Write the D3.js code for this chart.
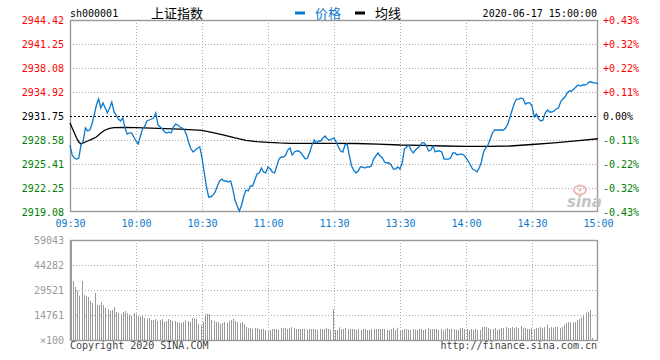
<!DOCTYPE html>
<html><head><meta charset="utf-8">
<script src="https://cdn.jsdelivr.net/npm/d3@7"></script>
<style>
body{margin:0;background:#fff;}
svg{display:block;}
</style></head><body>
<svg id="c" width="660" height="360"></svg>
<script>
const timeLabels = ["09:30","10:00","10:30","11:00","11:30","13:30","14:00","14:30","15:00"];
const timeTickMinutes = [0,30,60,90,120,150,180,210,240];
const priceTicks = [2944.42,2941.25,2938.08,2934.92,2931.75,2928.58,2925.41,2922.25,2919.08];
const pctLabels = ["+0.43%","+0.32%","+0.22%","+0.11%","0.00%","-0.11%","-0.22%","-0.32%","-0.43%"];
const volTicks = [59043,44282,29521,14761,0];
const volTickLabels = ["59043","44282","29521","14761","×100"];
const prevClose = 2931.75;

const price = [
2927.92,2926.60,2926.21,2926.07,2926.21,2927.92,2928.45,2930.17,2929.77,2929.90,
2930.69,2931.88,2933.20,2933.99,2932.81,2933.47,2932.81,2932.15,2932.81,2933.60,
2932.28,2931.88,2931.35,2931.09,2931.49,2930.17,2929.37,2929.51,2929.51,2928.98,
2928.45,2928.05,2929.11,2930.03,2930.43,2931.09,2931.22,2931.35,2931.49,2932.15,
2930.56,2930.30,2930.03,2929.64,2929.51,2929.64,2929.51,2930.30,2930.69,2930.56,
2930.30,2930.17,2929.90,2929.24,2928.19,2927.39,2927.00,2927.26,2927.53,2927.66,
2926.21,2924.36,2922.51,2921.06,2921.06,2921.32,2921.72,2922.51,2923.17,2923.43,
2923.17,2923.17,2923.04,2923.17,2922.11,2920.66,2919.87,2919.21,2920.00,2921.19,
2921.98,2921.85,2922.51,2922.51,2923.30,2924.09,2924.23,2924.89,2924.36,2924.23,
2925.02,2924.75,2924.36,2924.23,2925.15,2926.07,2926.34,2926.34,2926.60,2927.26,
2927.53,2926.60,2927.00,2927.13,2927.13,2926.87,2926.47,2926.07,2926.21,2927.00,
2927.92,2928.58,2928.19,2928.45,2928.45,2928.85,2929.11,2928.71,2928.58,2928.71,
2928.85,2928.32,2927.66,2927.13,2927.00,2927.92,2928.05,2926.47,2925.15,2924.62,
2924.23,2924.49,2925.02,2925.02,2924.89,2925.02,2925.02,2925.15,2926.07,2926.47,
2926.87,2926.47,2926.21,2925.68,2925.55,2925.55,2925.28,2924.75,2924.75,2925.02,
2924.75,2925.55,2927.39,2927.66,2927.92,2927.26,2926.87,2927.26,2927.53,2927.79,
2928.19,2928.19,2927.79,2927.13,2927.26,2927.79,2927.00,2927.13,2927.13,2927.00,
2926.07,2926.07,2926.07,2926.21,2926.87,2926.87,2926.60,2926.73,2926.73,2926.60,
2926.21,2925.81,2925.28,2924.75,2924.62,2924.36,2924.89,2925.68,2927.00,2927.53,
2927.92,2928.71,2929.51,2929.90,2929.90,2929.90,2929.90,2929.90,2930.17,2930.69,
2931.62,2932.54,2933.47,2933.99,2933.99,2934.13,2933.99,2933.33,2933.47,2933.47,
2933.07,2931.62,2932.01,2931.35,2931.09,2931.22,2932.15,2932.54,2932.28,2932.28,
2932.41,2932.67,2932.81,2933.60,2933.99,2934.26,2934.79,2935.05,2935.05,2935.31,
2935.58,2935.84,2935.71,2935.84,2935.84,2935.97,2936.24,2936.24,2936.11,2936.11,
2935.97
];

const avgMinutes = [0,1,2,3,4,5,6,8,10,12,14,16,18,20,25,30,40,50,60,65,70,75,80,85,90,95,100,120,130,140,150,160,170,180,190,200,210,220,230,240];
const avgPrice = [2930.83,2930.17,2929.51,2928.85,2928.32,2928.05,2928.19,2928.45,2928.71,2928.98,
2929.51,2929.90,2930.13,2930.21,2930.23,2930.21,2930.13,2930.03,2929.86,2929.57,
2929.24,2928.87,2928.54,2928.36,2928.28,2928.19,2928.15,2928.15,2928.12,2928.05,
2927.92,2927.86,2927.79,2927.75,2927.75,2927.79,2927.99,2928.21,2928.48,2928.75];

const volume = [
34800,31300,29300,26200,34800,26500,26000,25400,23000,21900,
27700,20700,20700,22400,20700,18900,18300,17100,17700,19500,
16500,15900,15400,16500,17100,15900,14800,14200,15900,15400,
14200,13600,14200,13000,12400,13000,11800,11800,12400,11200,
11800,12400,10600,11200,12400,11800,11200,11200,10600,10000,
10000,10600,11800,11200,10600,13100,12700,12400,9400,8800,
10600,15200,15500,15200,11800,11200,10600,10600,9400,10000,
10600,10000,11200,11800,12400,11200,10600,10000,10600,9400,
7700,7100,7100,6500,7100,7100,6500,6500,6500,5900,
5900,5900,6500,6500,6500,6100,7100,7100,7100,6500,
7100,7700,7100,6500,6500,6500,6500,6500,6100,6500,
6500,6500,6500,6100,6500,6500,6500,7100,6500,6100,
18100,5900,5900,7500,6500,6500,7100,6500,6500,6500,
6500,5900,6500,5900,6500,6500,5900,5900,6500,6500,
6500,6500,6500,6500,6500,5900,5900,6500,7100,5900,
7300,5600,5900,6500,6500,5900,5900,6500,6100,5900,
6500,6500,5900,6500,7100,6500,6500,6500,6500,5900,
6500,5600,6500,7100,6500,6500,6500,6100,5900,7100,
7100,6500,6500,5900,6500,5900,6500,5900,5900,7700,
7700,7700,7100,6500,6500,7100,5900,6500,7100,7100,
7700,7100,7100,7700,7100,7700,7100,8300,7100,7100,
6500,6500,7100,6500,7100,7100,7700,7100,7700,8900,
7100,7700,7100,7700,7700,7100,7700,8900,10000,10600,
10300,10300,10600,11800,12400,13400,14900,16100,16500,17700,
1200
];

const MONO = "'DejaVu Sans Mono', 'Liberation Mono', monospace";
const CJK = "'Noto Sans CJK SC', sans-serif";
const BLUE = "#0a78cc";
const GRID = "#aaaaaa";
const BORDER = "#999999";

const svg = d3.select("#c");
const L = 70, R = 598, T = 20, B = 212;
const VT = 240, VB = 340;

const x = d3.scaleLinear().domain([0,240]).range([L,R]);
const xv = d3.scaleLinear().domain([0,240]).range([73,592]);
const y = d3.scaleLinear().domain([priceTicks[8], priceTicks[0]]).range([B,T]);
const yv = d3.scaleLinear().domain([0, volTicks[0]]).range([VB,VT]);

function colorFor(v){ return Math.abs(v-prevClose)<0.005 ? "#000" : (v>prevClose ? "#ff0000" : "#008000"); }

// ---- main chart grid ----
const gGrid = svg.append("g");
gGrid.selectAll("line.vg").data(timeTickMinutes.slice(1,-1)).join("line")
  .attr("x1", d=>Math.round(x(d))+0.5).attr("x2", d=>Math.round(x(d))+0.5)
  .attr("y1", T).attr("y2", B)
  .attr("stroke", GRID).attr("stroke-dasharray","1,2");
gGrid.selectAll("line.hg").data(priceTicks.slice(1,-1).filter(v=>v!==prevClose)).join("line")
  .attr("x1", L).attr("x2", R)
  .attr("y1", d=>Math.round(y(d))+0.5).attr("y2", d=>Math.round(y(d))+0.5)
  .attr("stroke", GRID).attr("stroke-dasharray","1,2");

// frame
svg.append("rect").attr("x",L+0.5).attr("y",T+0.5).attr("width",R-L-1).attr("height",B-T-1)
  .attr("fill","none").attr("stroke",BORDER).attr("stroke-width",1.4);

// zero line
svg.append("line").attr("x1",L).attr("x2",R)
  .attr("y1",Math.round(y(prevClose))+0.5).attr("y2",Math.round(y(prevClose))+0.5)
  .attr("stroke","#000").attr("stroke-dasharray","2,2");

// sina watermark
const wm = svg.append("g");
wm.append("ellipse").attr("cx",580).attr("cy",190).attr("rx",6).attr("ry",4.5)
  .attr("fill","none").attr("stroke","#f2b8b8").attr("stroke-width",2);
wm.append("circle").attr("cx",580).attr("cy",190).attr("r",1.6).attr("fill","#f2b8b8");
wm.append("text").attr("x",567).attr("y",207).text("sina")
  .attr("font-family","'DejaVu Sans', sans-serif").attr("font-size",15).attr("font-weight","bold")
  .attr("font-style","italic").attr("fill","#c4c4c4");

// avg line
const avgLine = d3.line().x((d,i)=>x(avgMinutes[i])).y(d=>y(d));
svg.append("path").datum(avgPrice).attr("d",avgLine)
  .attr("fill","none").attr("stroke","#000").attr("stroke-width",1.3);

// price line
const line = d3.line().x((d,i)=>x(i)).y(d=>y(d));
svg.append("path").datum(price).attr("d",line)
  .attr("fill","none").attr("stroke",BLUE).attr("stroke-width",1.3);

// left axis
const axL = svg.append("g").attr("transform",`translate(${L},0)`)
  .call(d3.axisLeft(y).tickValues(priceTicks).tickFormat(d=>d.toFixed(2)).tickSize(0).tickPadding(6));
axL.select(".domain").remove();
axL.selectAll("text").attr("font-family",MONO).attr("font-size",10).attr("fill",d=>colorFor(d));

// right axis
const axR = svg.append("g").attr("transform",`translate(${R},0)`)
  .call(d3.axisRight(y).tickValues(priceTicks).tickFormat((d,i)=>pctLabels[i]).tickSize(0).tickPadding(5));
axR.select(".domain").remove();
axR.selectAll("text").attr("font-family",MONO).attr("font-size",10).attr("fill",d=>colorFor(d));

// time axis
const axB = svg.append("g").attr("transform",`translate(0,${B})`)
  .call(d3.axisBottom(x).tickValues(timeTickMinutes).tickFormat((d,i)=>timeLabels[i]).tickSize(0).tickPadding(8));
axB.select(".domain").remove();
axB.selectAll("text").attr("font-family",MONO).attr("font-size",10).attr("fill",BLUE);

// ---- volume chart ----
svg.append("g").selectAll("line").data(volume).join("line")
  .attr("x1",(d,i)=>Math.round(xv(i))+0.5).attr("x2",(d,i)=>Math.round(xv(i))+0.5)
  .attr("y1",VB).attr("y2",d=>yv(d))
  .attr("stroke","#999").attr("stroke-width",1);

const gv = svg.append("g");
gv.selectAll("line.vg").data(timeTickMinutes.slice(1,-1)).join("line")
  .attr("x1", d=>Math.round(x(d))+0.5).attr("x2", d=>Math.round(x(d))+0.5)
  .attr("y1", VT).attr("y2", VB)
  .attr("stroke", GRID).attr("stroke-dasharray","1,2");
gv.selectAll("line.hg").data(volTicks.slice(1,-1)).join("line")
  .attr("x1", L).attr("x2", R)
  .attr("y1", d=>Math.round(yv(d))+0.5).attr("y2", d=>Math.round(yv(d))+0.5)
  .attr("stroke", GRID).attr("stroke-dasharray","1,2");

svg.append("rect").attr("x",L+0.5).attr("y",VT+0.5).attr("width",R-L-1).attr("height",VB-VT)
  .attr("fill","none").attr("stroke",BORDER).attr("stroke-width",1.4);
svg.append("line").attr("x1",L+1).attr("x2",L+1).attr("y1",VT).attr("y2",VB)
  .attr("stroke",BORDER).attr("stroke-width",2);

const axV = svg.append("g").attr("transform",`translate(${L},0)`)
  .call(d3.axisLeft(yv).tickValues(volTicks).tickFormat((d,i)=>volTickLabels[i]).tickSize(0).tickPadding(6));
axV.select(".domain").remove();
axV.selectAll("text").attr("font-family",MONO).attr("font-size",10).attr("fill","#999");

// ---- header ----
svg.append("text").attr("x",70).attr("y",17).text("sh000001")
  .attr("font-family",MONO).attr("font-size",10).attr("fill","#000");
svg.append("text").attr("x",151).attr("y",18).text("上证指数")
  .attr("font-family",CJK).attr("font-size",13).attr("fill","#000");
svg.append("rect").attr("x",295).attr("y",11.5).attr("width",10).attr("height",3).attr("fill",BLUE);
svg.append("text").attr("x",315).attr("y",18).text("价格")
  .attr("font-family",CJK).attr("font-size",13).attr("fill",BLUE);
svg.append("rect").attr("x",355).attr("y",11.5).attr("width",10).attr("height",3).attr("fill","#000");
svg.append("text").attr("x",375).attr("y",18).text("均线")
  .attr("font-family",CJK).attr("font-size",13).attr("fill","#000");
svg.append("text").attr("x",597).attr("y",17).attr("text-anchor","end").text("2020-06-17 15:00:00")
  .attr("font-family",MONO).attr("font-size",10).attr("fill","#000");

// ---- footer ----
svg.append("text").attr("x",70).attr("y",349).text("Copyright 2020 SINA.COM")
  .attr("font-family",MONO).attr("font-size",10).attr("fill","#444");
svg.append("text").attr("x",597).attr("y",349).attr("text-anchor","end").text("http://finance.sina.com.cn")
  .attr("font-family",MONO).attr("font-size",10).attr("fill","#444");
</script>
</body></html>
